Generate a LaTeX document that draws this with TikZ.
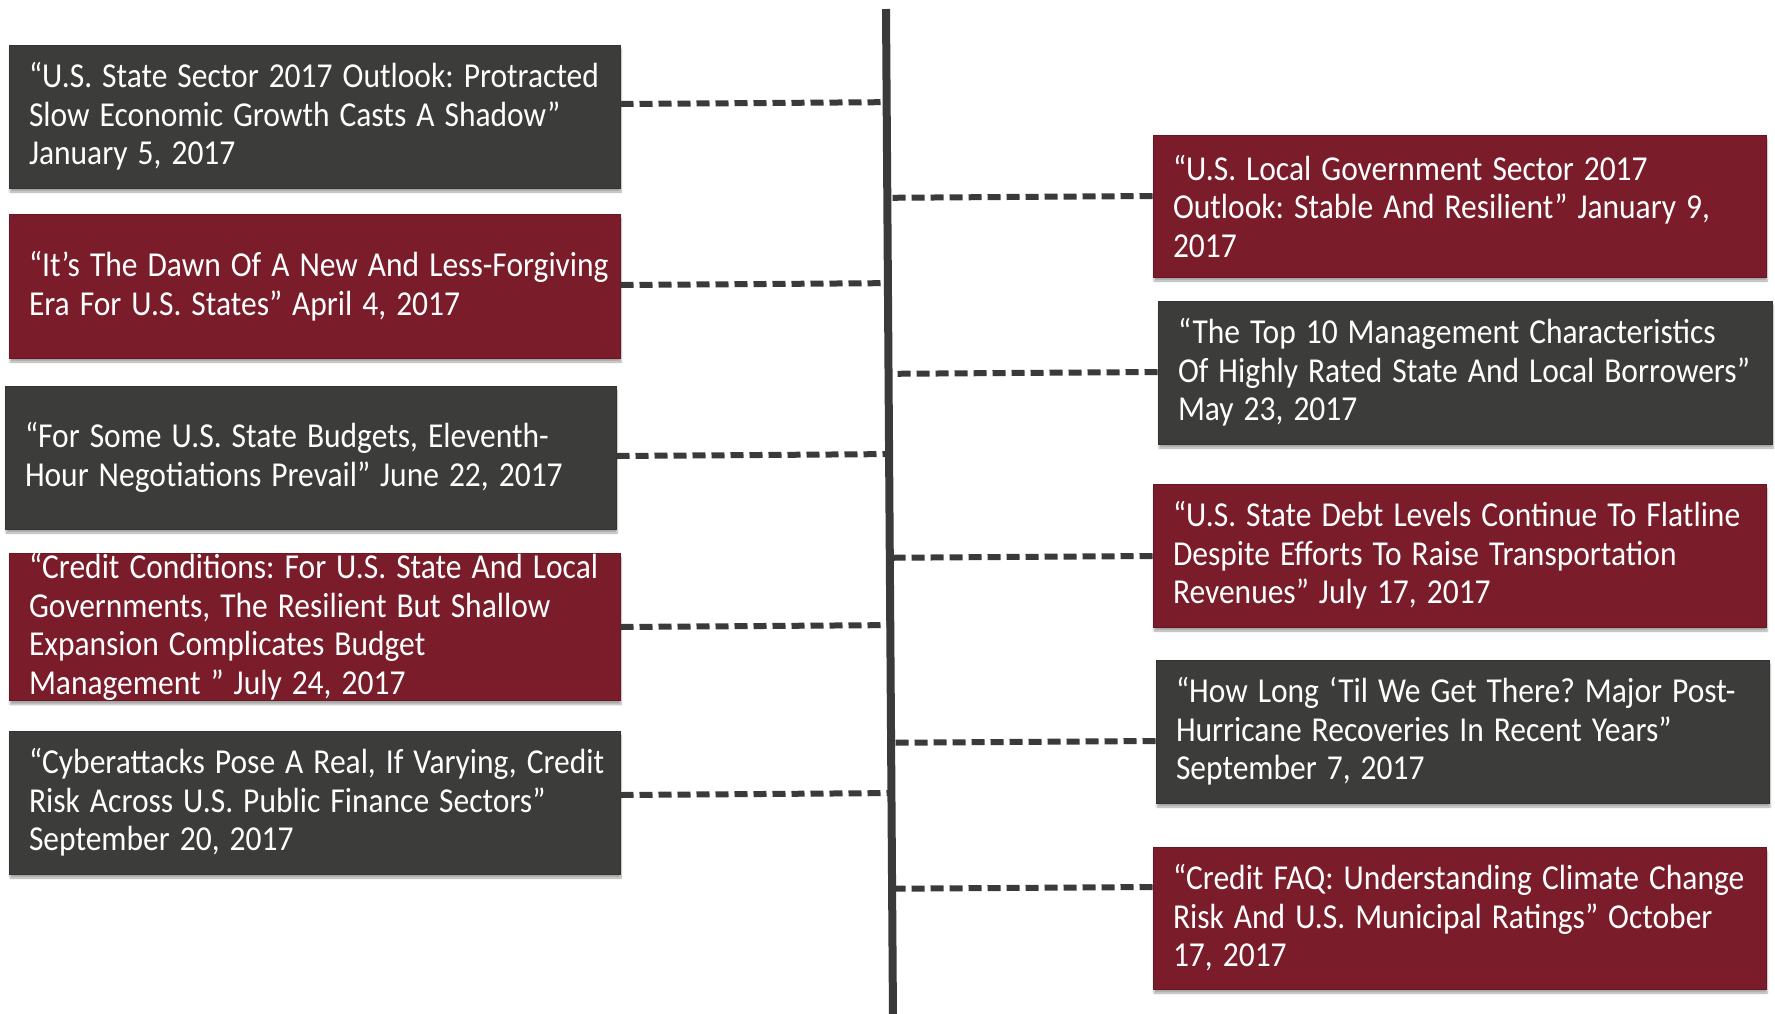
\documentclass[tikz,border=0pt]{standalone}
\usepackage{fontspec}
\setmainfont{Carlito}[FakeStretch=0.9]
\usetikzlibrary{calc,shadows.blur}
\definecolor{boxgray}{HTML}{3C3C3B}
\definecolor{boxred}{HTML}{7A1C29}
\definecolor{linegray}{HTML}{3A3A3A}
\newcommand{\oneline}[1]{\mbox{#1}}
\newcommand{\itemspacing}{\frenchspacing\spaceskip=10pt plus 1pt minus 1pt\relax}
\tikzset{
  item/.style={rectangle, text=white, align=left, inner xsep=20pt, inner ysep=0pt,
    line width=1pt, font=\fontsize{35}{38.5}\selectfont,
    execute at begin node=\itemspacing,
    blur shadow={shadow xshift=1pt, shadow yshift=-4pt, shadow blur steps=6, shadow opacity=35}},
  grayitem/.style={item, fill=boxgray, draw=boxgray!85!black},
  reditem/.style={item, fill=boxred, draw=boxred!85!black},
  conn/.style={draw=linegray, line width=6pt, dash pattern=on 13pt off 6pt},
  axis/.style={draw=linegray, line width=8pt}
}
\begin{document}
\begin{tikzpicture}[x=1pt,y=-1pt]
\useasboundingbox (0,0) rectangle (1775,1013);
\coordinate (tTop) at (886,9);
\coordinate (tBot) at (893,1020);
\draw[axis] (tTop) -- (tBot);

% left boxes
\node[grayitem, minimum width=611pt, minimum height=143pt, text width=571pt] (L1) at (314.5,116.5)
 {\oneline{“U.S. State Sector 2017 Outlook: Protracted}\\\oneline{Slow Economic Growth Casts A Shadow”}\\\oneline{January 5, 2017}};
\node[reditem, minimum width=611pt, minimum height=144pt, text width=571pt] (L2) at (314.5,286)
 {\oneline{“It’s The Dawn Of A New And Less-Forgiving}\\\oneline{Era For U.S. States” April 4, 2017}};
\node[grayitem, minimum width=611pt, minimum height=143pt, text width=571pt] (L3) at (310.5,457.5)
 {\oneline{“For Some U.S. State Budgets, Eleventh-}\\\oneline{Hour Negotiations Prevail” June 22, 2017}};
\node[reditem, minimum width=611pt, minimum height=142pt, text width=571pt] (L4) at (314.5,627)
 {\oneline{“Credit Conditions: For U.S. State And Local}\\\oneline{Governments, The Resilient But Shallow}\\\oneline{Expansion Complicates Budget}\\\oneline{Management ” July 24, 2017}};
\node[grayitem, minimum width=611pt, minimum height=143pt, text width=571pt] (L5) at (314.5,802.5)
 {\oneline{“Cyberattacks Pose A Real, If Varying, Credit}\\\oneline{Risk Across U.S. Public Finance Sectors”}\\\oneline{September 20, 2017}};

% right boxes
\node[reditem, minimum width=613pt, minimum height=142pt, text width=573pt] (R1) at (1459.5,206)
 {\oneline{“U.S. Local Government Sector 2017}\\\oneline{Outlook: Stable And Resilient” January 9,}\\\oneline{2017}};
\node[grayitem, minimum width=614pt, minimum height=143pt, text width=574pt] (R2) at (1465,372.5)
 {\oneline{“The Top 10 Management Characteristics}\\\oneline{Of Highly Rated State And Local Borrowers”}\\\oneline{May 23, 2017}};
\node[reditem, minimum width=613pt, minimum height=143pt, text width=573pt] (R3) at (1459.5,555.5)
 {\oneline{“U.S. State Debt Levels Continue To Flatline}\\\oneline{Despite Efforts To Raise Transportation}\\\oneline{Revenues” July 17, 2017}};
\node[grayitem, minimum width=613pt, minimum height=143pt, text width=573pt] (R4) at (1462.5,731.5)
 {\oneline{“How Long ‘Til We Get There? Major Post-}\\\oneline{Hurricane Recoveries In Recent Years”}\\\oneline{September 7, 2017}};
\node[reditem, minimum width=613pt, minimum height=142pt, text width=573pt] (R5) at (1459.5,918)
 {\oneline{“Credit FAQ: Understanding Climate Change}\\\oneline{Risk And U.S. Municipal Ratings” October}\\\oneline{17, 2017}};

% connector start points
\coordinate (cL1) at (L1.east |- 0,104);
\coordinate (cL2) at (L2.east |- 0,285);
\coordinate (cL3) at (L3.east |- 0,456);
\coordinate (cL4) at (L4.east |- 0,627);
\coordinate (cL5) at (L5.east |- 0,795);
\coordinate (cR1) at (R1.west |- 0,196);
\coordinate (cR2) at (R2.west |- 0,372);
\coordinate (cR3) at (R3.west |- 0,556);
\coordinate (cR4) at (R4.west |- 0,741);
\coordinate (cR5) at (R5.west |- 0,887);

\foreach \c in {cL1,cL2,cL3,cL4,cL5,cR1,cR2,cR3,cR4,cR5}
  \draw[conn] (\c) -- ($(tTop)!(\c)!(tBot)$);
\end{tikzpicture}
\end{document}
